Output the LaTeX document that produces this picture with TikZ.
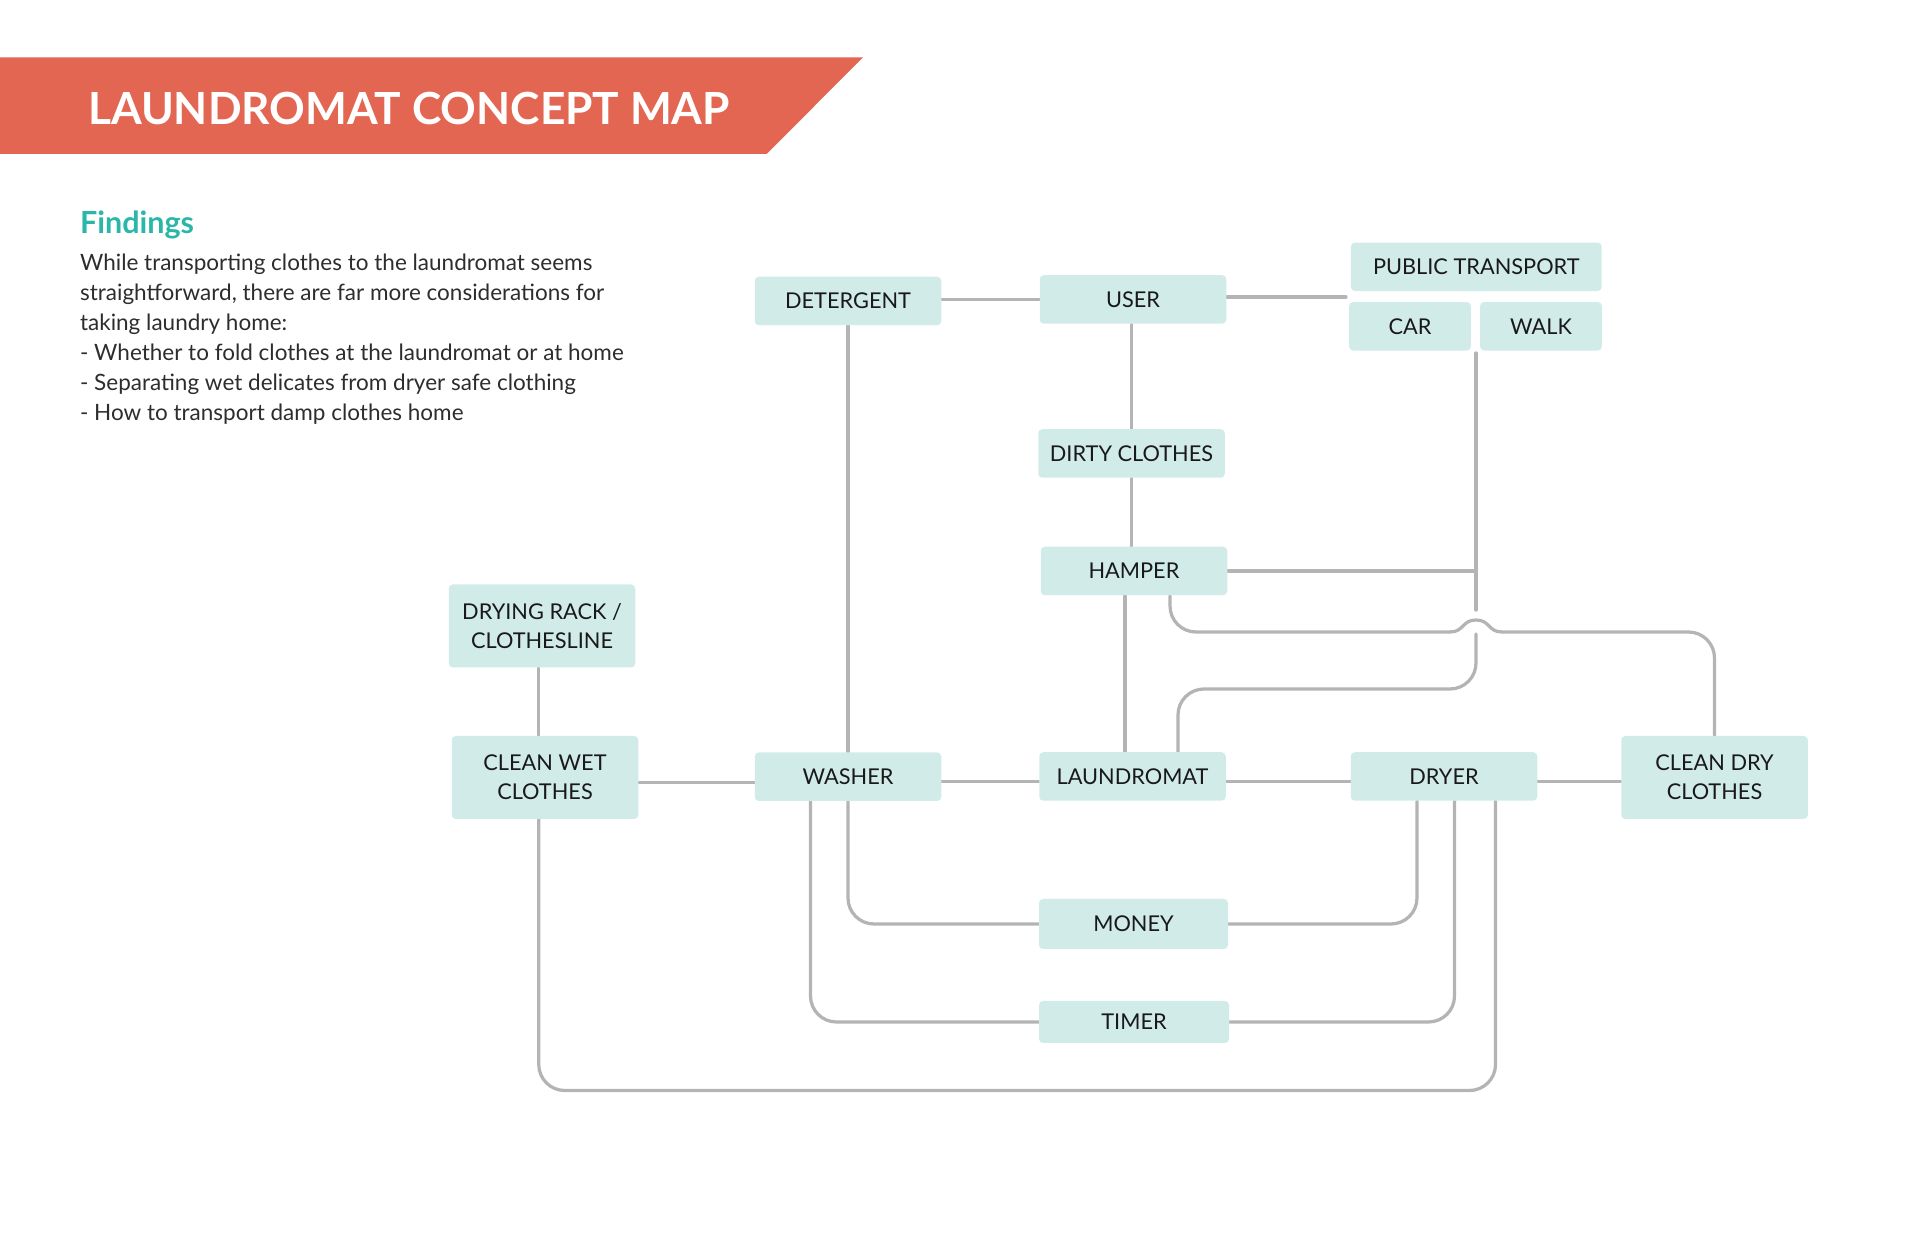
\documentclass[tikz,border=0pt]{standalone}
\usepackage{fontspec}
\setmainfont{Lato}
\usetikzlibrary{backgrounds}
\definecolor{bannerred}{RGB}{227,102,82}
\definecolor{findteal}{RGB}{42,183,170}
\definecolor{boxfill}{RGB}{209,235,233}
\definecolor{linkgray}{RGB}{180,180,180}
\definecolor{labelink}{RGB}{25,25,25}
\definecolor{bodyink}{RGB}{45,45,45}
\tikzset{concept/.style={fill=boxfill, rounded corners=1.6pt, inner sep=0pt,
  minimum width=74.6pt, minimum height=19.4pt, align=center, text=labelink,
  font=\fontsize{8.7}{11.5}\selectfont}}
\tikzset{link/.style={draw=linkgray, line width=1.3pt, line cap=round, rounded corners=10.4pt}}

\begin{document}
\begin{tikzpicture}[x=0.4pt,y=-0.4pt]
\useasboundingbox (0,0) rectangle (1920,1243);
% banner
\fill[bannerred] (0,57.3) -- (863,57.3) -- (766.7,154) -- (0,154) -- cycle;
\node[anchor=base west, inner sep=0pt, text=white, font=\fontsize{17.7}{20}\selectfont\bfseries] (title) at (87.6,125) {LAUNDROMAT CONCEPT MAP};
\node[anchor=base west, inner sep=0pt, text=findteal, font=\fontsize{12.2}{14}\selectfont\bfseries] (findings) at (79.6,233.3) {Findings};
\foreach \line [count=\i] in {While transporting clothes to the laundromat seems,
  {straightforward, there are far more considerations for},
  taking laundry home:,
  - Whether to fold clothes at the laundromat or at home,
  - Separating wet delicates from dryer safe clothing,
  - How to transport damp clothes home} {
\node[anchor=base west, inner sep=0pt, text=bodyink, font=\fontsize{9}{11}\selectfont] (body\i) at (79.6,241+30*\i) {\line};
}
% concepts
\node[concept] (detergent) at (848,301) {DETERGENT};
\node[concept] (user) at (1133,299.5) {USER};
\node[concept, minimum width=100.3pt] (public) at (1476.3,266.8) {PUBLIC TRANSPORT};
\node[concept, minimum width=48.7pt] (car) at (1410,326.3) {CAR};
\node[concept, minimum width=48.7pt] (walk) at (1541,326.3) {WALK};
\node[concept] (dirty) at (1131.5,453.5) {DIRTY CLOTHES};
\node[concept] (hamper) at (1134,571) {HAMPER};
\node[concept, minimum height=33.2pt] (rack) at (542,626) {DRYING RACK /\\CLOTHESLINE};
\node[concept, minimum height=33.2pt] (wet) at (545,777.5) {CLEAN WET\\CLOTHES};
\node[concept] (washer) at (848,776.7) {WASHER};
\node[concept] (laundromat) at (1132.5,776.5) {LAUNDROMAT};
\node[concept] (dryer) at (1444,776.5) {DRYER};
\node[concept, minimum height=33.2pt] (cleandry) at (1714.5,777.5) {CLEAN DRY\\CLOTHES};
\node[concept, minimum width=75.6pt, minimum height=20pt] (money) at (1133.5,924) {MONEY};
\node[concept, minimum width=76pt, minimum height=16.8pt] (timer) at (1134,1022) {TIMER};
\coordinate (transport) at (1346,297);
\coordinate (carwalk) at (1476,353);
\coordinate (hoptop) at (1476,610);
\coordinate (hopbot) at (1476,634);
\coordinate (hopleft) at (1450,632);
\coordinate (hopright) at (1502,632);
\coordinate (bend) at (1178,689);
% connectors
\begin{scope}[on background layer]
\draw[link] (user.west) -- (user.west -| detergent.east);
\draw[link] (user.east |- transport) -- (transport);
\draw[link] (dirty.north) -- (dirty.north |- user.south);
\draw[link] (dirty.south) -- (dirty.south |- hamper.north);
\draw[link] ([xshift=-3.6pt]hamper.south) -- ([xshift=-3.6pt]hamper.south |- laundromat.north);
\draw[link] (detergent.south) -- (washer.north);
\draw[link] ([xshift=-2.5pt]wet.north) -- ([xshift=-2.5pt]wet.north |- rack.south);
\foreach \a/\b in {wet/washer, washer/laundromat, laundromat/dryer, dryer/cleandry} {
\draw[link] ([yshift=-2pt]\a.east) -- ([yshift=-2pt]\a.east -| \b.west);
}
\draw[link] (carwalk) -- (hoptop);
\draw[link] (hamper.east) -- (hamper.east -| carwalk);
\draw[link] (hopbot) |- (bend) -- (bend |- laundromat.north);
% hamper to clean dry clothes, jumping over the transport line
\draw[link] ([xshift=14.4pt]hamper.south) |- (hopleft);
\draw[link, sharp corners] (hopleft) .. controls (1464,632) and (1462,620) .. (1476,620)
  .. controls (1490,620) and (1488,632) .. (hopright);
\draw[link] (hopright) -| (cleandry.north);
\draw[link] (washer.south) |- (money.west);
\draw[link] (money.east) -| ([xshift=-10.8pt]dryer.south);
\draw[link] ([xshift=-15pt]washer.south) |- (timer.west);
\draw[link] (timer.east) -| ([xshift=4.2pt]dryer.south);
\draw[link] ([xshift=-2.5pt]wet.south) -- ++(0,271) -| ([xshift=20.6pt]dryer.south);
\end{scope}
\end{tikzpicture}
\end{document}
